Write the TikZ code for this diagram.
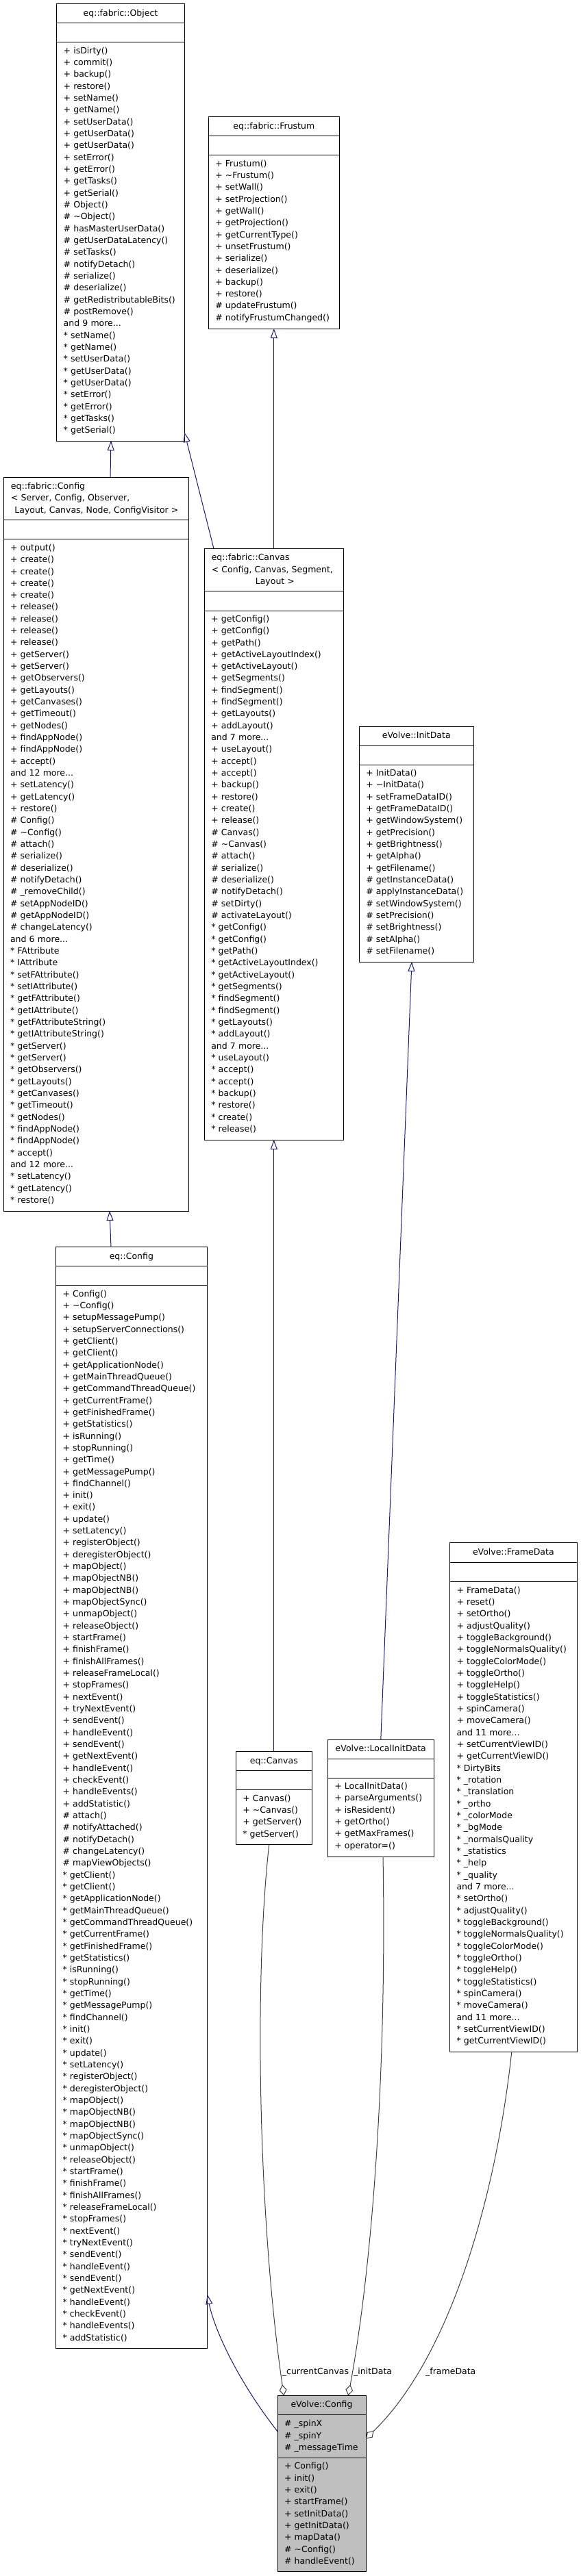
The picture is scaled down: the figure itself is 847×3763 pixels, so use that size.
\documentclass[tikz,border=0pt]{standalone}
\usepackage{fontspec}
\setmainfont{DejaVu Sans}
\usetikzlibrary{arrows.meta}
\definecolor{edgeblue}{HTML}{191970}
\definecolor{edgegray}{HTML}{404040}
\definecolor{classgray}{HTML}{BFBFBF}
\tikzset{
  classbox/.style={draw=black, line width=1pt, fill=white, inner sep=0pt, outer sep=0pt, anchor=north west},
  classtitle/.style={inner sep=0pt, anchor=base},
  members/.style={inner sep=0pt, outer sep=0pt, text width=255pt, align=left, anchor=north west},
  sepline/.style={line width=1pt},
  inherit/.style={draw=edgeblue, line width=1pt, -{Triangle[open, length=14pt, width=10pt]}},
  aggregate/.style={draw=edgegray, line width=1pt, -{Diamond[open, length=16pt, width=11pt]}},
  edgelabel/.style={inner sep=0pt},
}
\begin{document}
\begin{tikzpicture}[x=1pt, y=-1pt, font=\fontsize{12.5}{17.33}\selectfont]
\useasboundingbox (0,0) rectangle (847,3763);

% Drawing class eq::fabric::Object
\node[classbox, minimum width=186.6pt, minimum height=638pt] (object) at (82.7,6) {};
\draw[sepline] ([yshift=-28pt]object.north west) -- ([yshift=-28pt]object.north east);
\draw[sepline] ([yshift=-56pt]object.north west) -- ([yshift=-56pt]object.north east);
\node[classtitle] (object-title) at ([yshift=-17.5pt]object.north) {eq::fabric::Object};
\node[members] (object-ops) at ([xshift=10pt, yshift=-60.2pt]object.north west) {\strut + isDirty()\\
+ commit()\\
+ backup()\\
+ restore()\\
+ setName()\\
+ getName()\\
+ setUserData()\\
+ getUserData()\\
+ getUserData()\\
+ setError()\\
+ getError()\\
+ getTasks()\\
+ getSerial()\\
\# Object()\\
\# \textasciitilde{}Object()\\
\# hasMasterUserData()\\
\# getUserDataLatency()\\
\# setTasks()\\
\# notifyDetach()\\
\# serialize()\\
\# deserialize()\\
\# getRedistributableBits()\\
\# postRemove()\\
and 9 more...\\
{*} setName()\\
{*} getName()\\
{*} setUserData()\\
{*} getUserData()\\
{*} getUserData()\\
{*} setError()\\
{*} getError()\\
{*} getTasks()\\
{*} getSerial()};

% Drawing class eq::fabric::Frustum
\node[classbox, minimum width=191pt, minimum height=309.3pt] (frustum) at (304.3,170.7) {};
\draw[sepline] ([yshift=-28pt]frustum.north west) -- ([yshift=-28pt]frustum.north east);
\draw[sepline] ([yshift=-56pt]frustum.north west) -- ([yshift=-56pt]frustum.north east);
\node[classtitle] (frustum-title) at ([yshift=-17.5pt]frustum.north) {eq::fabric::Frustum};
\node[members] (frustum-ops) at ([xshift=10pt, yshift=-60.2pt]frustum.north west) {\strut + Frustum()\\
+ \textasciitilde{}Frustum()\\
+ setWall()\\
+ setProjection()\\
+ getWall()\\
+ getProjection()\\
+ getCurrentType()\\
+ unsetFrustum()\\
+ serialize()\\
+ deserialize()\\
+ backup()\\
+ restore()\\
\# updateFrustum()\\
\# notifyFrustumChanged()};

% Drawing class eq::fabric::Config
\node[classbox, minimum width=270pt, minimum height=1072pt] (fconfig) at (5,697) {};
\draw[sepline] ([yshift=-62.7pt]fconfig.north west) -- ([yshift=-62.7pt]fconfig.north east);
\draw[sepline] ([yshift=-90.9pt]fconfig.north west) -- ([yshift=-90.9pt]fconfig.north east);
\node[members] (fconfig-title) at ([xshift=11pt, yshift=-5.4pt]fconfig.north west) {\strut eq::fabric::Config\\
< Server, Config, Observer,};
\node[classtitle] (fconfig-title2) at ([xshift=0.8pt, yshift=-52.2pt]fconfig.north) {Layout, Canvas, Node, ConfigVisitor >};
\node[members] (fconfig-ops) at ([xshift=10pt, yshift=-95.2pt]fconfig.north west) {\strut + output()\\
+ create()\\
+ create()\\
+ create()\\
+ create()\\
+ release()\\
+ release()\\
+ release()\\
+ release()\\
+ getServer()\\
+ getServer()\\
+ getObservers()\\
+ getLayouts()\\
+ getCanvases()\\
+ getTimeout()\\
+ getNodes()\\
+ findAppNode()\\
+ findAppNode()\\
+ accept()\\
and 12 more...\\
+ setLatency()\\
+ getLatency()\\
+ restore()\\
\# Config()\\
\# \textasciitilde{}Config()\\
\# attach()\\
\# serialize()\\
\# deserialize()\\
\# notifyDetach()\\
\# \_removeChild()\\
\# setAppNodeID()\\
\# getAppNodeID()\\
\# changeLatency()\\
and 6 more...\\
{*} FAttribute\\
{*} IAttribute\\
{*} setFAttribute()\\
{*} setIAttribute()\\
{*} getFAttribute()\\
{*} getIAttribute()\\
{*} getFAttributeString()\\
{*} getIAttributeString()\\
{*} getServer()\\
{*} getServer()\\
{*} getObservers()\\
{*} getLayouts()\\
{*} getCanvases()\\
{*} getTimeout()\\
{*} getNodes()\\
{*} findAppNode()\\
{*} findAppNode()\\
{*} accept()\\
and 12 more...\\
{*} setLatency()\\
{*} getLatency()\\
{*} restore()};

% Drawing class eq::fabric::Canvas
\node[classbox, minimum width=203pt, minimum height=863.7pt] (fcanvas) at (298.3,801.3) {};
\draw[sepline] ([yshift=-62.5pt]fcanvas.north west) -- ([yshift=-62.5pt]fcanvas.north east);
\draw[sepline] ([yshift=-90.7pt]fcanvas.north west) -- ([yshift=-90.7pt]fcanvas.north east);
\node[members] (fcanvas-title) at ([xshift=10.5pt, yshift=-5.4pt]fcanvas.north west) {\strut eq::fabric::Canvas\\
< Config, Canvas, Segment,};
\node[classtitle] (fcanvas-title2) at ([xshift=1.5pt, yshift=-52.2pt]fcanvas.north) {Layout >};
\node[members] (fcanvas-ops) at ([xshift=10pt, yshift=-94.9pt]fcanvas.north west) {\strut + getConfig()\\
+ getConfig()\\
+ getPath()\\
+ getActiveLayoutIndex()\\
+ getActiveLayout()\\
+ getSegments()\\
+ findSegment()\\
+ findSegment()\\
+ getLayouts()\\
+ addLayout()\\
and 7 more...\\
+ useLayout()\\
+ accept()\\
+ accept()\\
+ backup()\\
+ restore()\\
+ create()\\
+ release()\\
\# Canvas()\\
\# \textasciitilde{}Canvas()\\
\# attach()\\
\# serialize()\\
\# deserialize()\\
\# notifyDetach()\\
\# setDirty()\\
\# activateLayout()\\
{*} getConfig()\\
{*} getConfig()\\
{*} getPath()\\
{*} getActiveLayoutIndex()\\
{*} getActiveLayout()\\
{*} getSegments()\\
{*} findSegment()\\
{*} findSegment()\\
{*} getLayouts()\\
{*} addLayout()\\
and 7 more...\\
{*} useLayout()\\
{*} accept()\\
{*} accept()\\
{*} backup()\\
{*} restore()\\
{*} create()\\
{*} release()};

% Drawing class eVolve::InitData
\node[classbox, minimum width=167pt, minimum height=343.7pt] (initdata) at (524.3,1061.3) {};
\draw[sepline] ([yshift=-28pt]initdata.north west) -- ([yshift=-28pt]initdata.north east);
\draw[sepline] ([yshift=-56pt]initdata.north west) -- ([yshift=-56pt]initdata.north east);
\node[classtitle] (initdata-title) at ([yshift=-17.5pt]initdata.north) {eVolve::InitData};
\node[members] (initdata-ops) at ([xshift=10pt, yshift=-60.2pt]initdata.north west) {\strut + InitData()\\
+ \textasciitilde{}InitData()\\
+ setFrameDataID()\\
+ getFrameDataID()\\
+ getWindowSystem()\\
+ getPrecision()\\
+ getBrightness()\\
+ getAlpha()\\
+ getFilename()\\
\# getInstanceData()\\
\# applyInstanceData()\\
\# setWindowSystem()\\
\# setPrecision()\\
\# setBrightness()\\
\# setAlpha()\\
\# setFilename()};

% Drawing class eq::Config
\node[classbox, minimum width=221.7pt, minimum height=1608.3pt] (eqconfig) at (81,1821.7) {};
\draw[sepline] ([yshift=-28pt]eqconfig.north west) -- ([yshift=-28pt]eqconfig.north east);
\draw[sepline] ([yshift=-56pt]eqconfig.north west) -- ([yshift=-56pt]eqconfig.north east);
\node[classtitle] (eqconfig-title) at ([yshift=-17.5pt]eqconfig.north) {eq::Config};
\node[members] (eqconfig-ops) at ([xshift=10.5pt, yshift=-60.2pt]eqconfig.north west) {\strut + Config()\\
+ \textasciitilde{}Config()\\
+ setupMessagePump()\\
+ setupServerConnections()\\
+ getClient()\\
+ getClient()\\
+ getApplicationNode()\\
+ getMainThreadQueue()\\
+ getCommandThreadQueue()\\
+ getCurrentFrame()\\
+ getFinishedFrame()\\
+ getStatistics()\\
+ isRunning()\\
+ stopRunning()\\
+ getTime()\\
+ getMessagePump()\\
+ findChannel()\\
+ init()\\
+ exit()\\
+ update()\\
+ setLatency()\\
+ registerObject()\\
+ deregisterObject()\\
+ mapObject()\\
+ mapObjectNB()\\
+ mapObjectNB()\\
+ mapObjectSync()\\
+ unmapObject()\\
+ releaseObject()\\
+ startFrame()\\
+ finishFrame()\\
+ finishAllFrames()\\
+ releaseFrameLocal()\\
+ stopFrames()\\
+ nextEvent()\\
+ tryNextEvent()\\
+ sendEvent()\\
+ handleEvent()\\
+ sendEvent()\\
+ getNextEvent()\\
+ handleEvent()\\
+ checkEvent()\\
+ handleEvents()\\
+ addStatistic()\\
\# attach()\\
\# notifyAttached()\\
\# notifyDetach()\\
\# changeLatency()\\
\# mapViewObjects()\\
{*} getClient()\\
{*} getClient()\\
{*} getApplicationNode()\\
{*} getMainThreadQueue()\\
{*} getCommandThreadQueue()\\
{*} getCurrentFrame()\\
{*} getFinishedFrame()\\
{*} getStatistics()\\
{*} isRunning()\\
{*} stopRunning()\\
{*} getTime()\\
{*} getMessagePump()\\
{*} findChannel()\\
{*} init()\\
{*} exit()\\
{*} update()\\
{*} setLatency()\\
{*} registerObject()\\
{*} deregisterObject()\\
{*} mapObject()\\
{*} mapObjectNB()\\
{*} mapObjectNB()\\
{*} mapObjectSync()\\
{*} unmapObject()\\
{*} releaseObject()\\
{*} startFrame()\\
{*} finishFrame()\\
{*} finishAllFrames()\\
{*} releaseFrameLocal()\\
{*} stopFrames()\\
{*} nextEvent()\\
{*} tryNextEvent()\\
{*} sendEvent()\\
{*} handleEvent()\\
{*} sendEvent()\\
{*} getNextEvent()\\
{*} handleEvent()\\
{*} checkEvent()\\
{*} handleEvents()\\
{*} addStatistic()};

% Drawing class eVolve::FrameData
\node[classbox, minimum width=185.7pt, minimum height=743.9pt] (framedata) at (656.5,2253.7) {};
\draw[sepline] ([yshift=-28.5pt]framedata.north west) -- ([yshift=-28.5pt]framedata.north east);
\draw[sepline] ([yshift=-57pt]framedata.north west) -- ([yshift=-57pt]framedata.north east);
\node[classtitle] (framedata-title) at ([yshift=-17.5pt]framedata.north) {eVolve::FrameData};
\node[members] (framedata-ops) at ([xshift=10pt, yshift=-61.4pt]framedata.north west) {\strut + FrameData()\\
+ reset()\\
+ setOrtho()\\
+ adjustQuality()\\
+ toggleBackground()\\
+ toggleNormalsQuality()\\
+ toggleColorMode()\\
+ toggleOrtho()\\
+ toggleHelp()\\
+ toggleStatistics()\\
+ spinCamera()\\
+ moveCamera()\\
and 11 more...\\
+ setCurrentViewID()\\
+ getCurrentViewID()\\
{*} DirtyBits\\
{*} \_rotation\\
{*} \_translation\\
{*} \_ortho\\
{*} \_colorMode\\
{*} \_bgMode\\
{*} \_normalsQuality\\
{*} \_statistics\\
{*} \_help\\
{*} \_quality\\
and 7 more...\\
{*} setOrtho()\\
{*} adjustQuality()\\
{*} toggleBackground()\\
{*} toggleNormalsQuality()\\
{*} toggleColorMode()\\
{*} toggleOrtho()\\
{*} toggleHelp()\\
{*} toggleStatistics()\\
{*} spinCamera()\\
{*} moveCamera()\\
and 11 more...\\
{*} setCurrentViewID()\\
{*} getCurrentViewID()};

% Drawing class eq::Canvas
\node[classbox, minimum width=111pt, minimum height=136pt] (eqcanvas) at (344.3,2558.7) {};
\draw[sepline] ([yshift=-28pt]eqcanvas.north west) -- ([yshift=-28pt]eqcanvas.north east);
\draw[sepline] ([yshift=-56pt]eqcanvas.north west) -- ([yshift=-56pt]eqcanvas.north east);
\node[classtitle] (eqcanvas-title) at ([yshift=-17.5pt]eqcanvas.north) {eq::Canvas};
\node[members] (eqcanvas-ops) at ([xshift=10pt, yshift=-60.2pt]eqcanvas.north west) {\strut + Canvas()\\
+ \textasciitilde{}Canvas()\\
+ getServer()\\
{*} getServer()};

% Drawing class eVolve::LocalInitData
\node[classbox, minimum width=155pt, minimum height=171pt] (localinit) at (478.3,2541) {};
\draw[sepline] ([yshift=-28pt]localinit.north west) -- ([yshift=-28pt]localinit.north east);
\draw[sepline] ([yshift=-56pt]localinit.north west) -- ([yshift=-56pt]localinit.north east);
\node[classtitle] (localinit-title) at ([yshift=-17.5pt]localinit.north) {eVolve::LocalInitData};
\node[members] (localinit-ops) at ([xshift=10pt, yshift=-60.2pt]localinit.north west) {\strut + LocalInitData()\\
+ parseArguments()\\
+ isResident()\\
+ getOrtho()\\
+ getMaxFrames()\\
+ operator=()};

% Drawing class eVolve::Config
\node[classbox, fill=classgray, minimum width=129pt, minimum height=257pt] (evconfig) at (405,3499.3) {};
\draw[sepline] ([yshift=-28.4pt]evconfig.north west) -- ([yshift=-28.4pt]evconfig.north east);
\draw[sepline] ([yshift=-90.7pt]evconfig.north west) -- ([yshift=-90.7pt]evconfig.north east);
\node[classtitle] (evconfig-title) at ([yshift=-17.5pt]evconfig.north) {eVolve::Config};
\node[members] (evconfig-attrs) at ([xshift=10pt, yshift=-33.4pt]evconfig.north west) {\strut \# \_spinX\\
\# \_spinY\\
\# \_messageTime};
\node[members] (evconfig-ops) at ([xshift=10pt, yshift=-95.4pt]evconfig.north west) {\strut + Config()\\
+ init()\\
+ exit()\\
+ startFrame()\\
+ setInitData()\\
+ getInitData()\\
+ mapData()\\
\# \textasciitilde{}Config()\\
\# handleEvent()};

% Drawing inheritance edges
\draw[inherit] ([xshift=21pt]fconfig.north) -- ([xshift=-14pt]object.south);
\draw[inherit] ([xshift=13.7pt]fcanvas.north west) -- ([yshift=12pt]object.south east);
\draw[inherit] (fcanvas.north) -- (frustum.south);
\draw[inherit] ([xshift=81pt]eqconfig.north west) -- ([xshift=20pt]fconfig.south);
\draw[inherit] (eqcanvas.north) -- (fcanvas.south);
\draw[inherit] (localinit.north) -- ([xshift=-6.8pt]initdata.south);
\draw[inherit] ([yshift=-52.4pt]evconfig.north west) .. controls (345,3475) and (312,3400) .. ([yshift=78pt]eqconfig.south east);

% Drawing aggregation edges
\draw[aggregate] ([xshift=-7.1pt]eqcanvas.south) .. controls (370,2900) and (378,3250) .. ([xshift=-55.2pt]evconfig.north);
\draw[aggregate] ([xshift=3.2pt]localinit.south) .. controls (565,3050) and (540,3330) .. ([xshift=38.8pt]evconfig.north);
\draw[aggregate] ([xshift=-2.6pt]framedata.south) .. controls (725,3200) and (660,3440) .. ([yshift=65.5pt]evconfig.east);
\node[edgelabel, anchor=base east] (lbl-canvas) at (509.3,3468.8) {\_currentCanvas};
\node[edgelabel, anchor=base west] (lbl-init) at (516,3468.8) {\_initData};
\node[edgelabel, anchor=base west] (lbl-frame) at (621,3468.8) {\_frameData};
\end{tikzpicture}
\end{document}
